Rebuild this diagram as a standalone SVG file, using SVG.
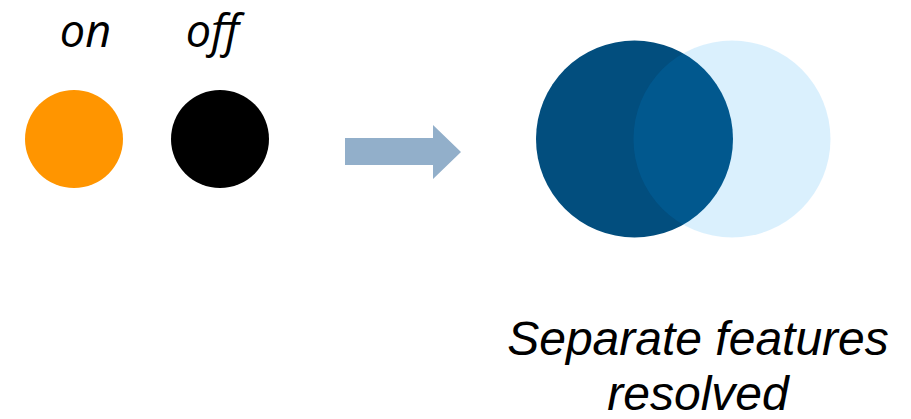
<svg xmlns="http://www.w3.org/2000/svg" width="911" height="419" viewBox="0 0 911 419">
  <style>
    .state { font-family: "Open Sans", "DejaVu Sans", sans-serif; font-style: italic; font-size: 45px; fill: #000; }
    .caption { font-family: "Liberation Sans", Arial, sans-serif; font-style: italic; font-size: 48px; fill: #000; }
  </style>
  <rect width="911" height="419" fill="#ffffff"/>

  <g id="on-state">
    <circle cx="74" cy="139" r="49" fill="#FF9500"/>
    <text class="state" x="85.5" y="47" text-anchor="middle">on</text>
  </g>

  <g id="off-state">
    <circle cx="220" cy="139" r="49" fill="#000000"/>
    <text class="state" x="212.5" y="47" text-anchor="middle">off</text>
  </g>

  <g id="connectors">
    <polygon points="345,138 433,138 433,125 461,152 433,179 433,165 345,165" fill="#92AFCA"/>
  </g>

  <g id="resolved-features">
    <circle cx="634.5" cy="139" r="98.5" fill="#024E7E"/>
    <circle cx="732" cy="139" r="98.5" fill="#0098F1" fill-opacity="0.145"/>
    <text class="caption" x="698" y="355" text-anchor="middle">Separate features</text>
    <text class="caption" x="698" y="410" text-anchor="middle">resolved</text>
  </g>
</svg>
